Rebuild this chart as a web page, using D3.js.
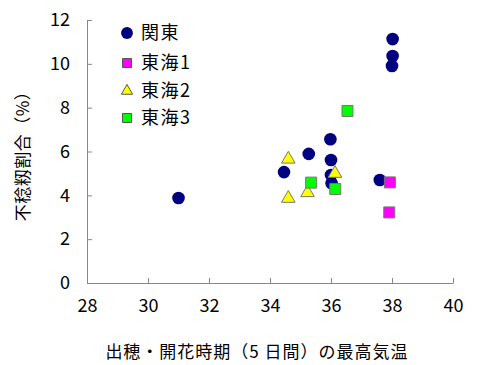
<!DOCTYPE html>
<html>
<head>
<meta charset="utf-8">
<script src="https://cdn.jsdelivr.net/npm/d3@7"></script>
<style>
  body { margin: 0; background: #fff; }
  text { font-family: "Noto Sans CJK JP", sans-serif; fill: #000; }
</style>
</head>
<body>
<svg id="chart" width="500" height="365"></svg>
<script>
// data
const kantoX = [31.0, 34.46, 35.27, 35.98, 36.0, 36.0, 36.02, 37.6, 38.02, 38.02, 38.0];
const kantoY = [3.88, 5.06, 5.89, 6.56, 5.61, 4.93, 4.55, 4.70, 11.13, 10.36, 9.90];
const tokai1X = [37.93, 37.91];
const tokai1Y = [4.59, 3.22];
const tokai2X = [34.6, 34.6, 35.23, 36.13];
const tokai2Y = [5.65, 3.86, 4.12, 5.0];
const tokai3X = [36.54, 35.35, 36.14];
const tokai3Y = [7.85, 4.58, 4.29];
const xTicks = [28, 30, 32, 34, 36, 38, 40];
const yTicks = [0, 2, 4, 6, 8, 10, 12];

const series = [
  {name: '関東', shape: 'circle', fill: '#000080', xs: kantoX, ys: kantoY},
  {name: '東海1', shape: 'square', fill: '#ff00ff', xs: tokai1X, ys: tokai1Y},
  {name: '東海2', shape: 'triangle', fill: '#ffff00', xs: tokai2X, ys: tokai2Y},
  {name: '東海3', shape: 'square', fill: '#00ff00', xs: tokai3X, ys: tokai3Y}
];

const margin = {top: 20, left: 87};
const width = 366, height = 263;
const axisColor = '#888';

const svg = d3.select('#chart');
const g = svg.append('g').attr('transform', 'translate(' + margin.left + ',' + margin.top + ')');

const x = d3.scaleLinear().domain([28, 40]).range([0, width]);
const y = d3.scaleLinear().domain([0, 12]).range([height, 0]);

// axes, ticks pointing inward
const xAxis = g.append('g')
  .attr('transform', 'translate(0,' + height + ')')
  .call(d3.axisBottom(x).tickValues(xTicks).tickSize(-5).tickPadding(16).tickSizeOuter(0));
const yAxis = g.append('g')
  .call(d3.axisLeft(y).tickValues(yTicks).tickSize(-5).tickPadding(17).tickSizeOuter(0));
[xAxis, yAxis].forEach(a => {
  a.select('.domain').attr('stroke', axisColor);
  a.selectAll('.tick line').attr('stroke', axisColor);
  a.selectAll('.tick text').style('font-size', '18px').attr('fill', '#000');
});
xAxis.selectAll('.tick text').attr('dy', '0.71em');

const sym = {
  circle: d3.symbol().type(d3.symbolCircle).size(125),
  square: d3.symbol().type(d3.symbolSquare).size(121),
  triangle: d3.symbol().type(d3.symbolTriangle).size(80)
};
const legSym = {
  circle: d3.symbol().type(d3.symbolCircle).size(110),
  square: d3.symbol().type(d3.symbolSquare).size(81),
  triangle: d3.symbol().type(d3.symbolTriangle).size(55)
};

// points
series.forEach(s => {
  g.append('g').selectAll('path')
    .data(s.xs.map((v, i) => [v, s.ys[i]]))
    .enter()
    .append('path')
    .attr('d', sym[s.shape])
    .attr('transform', d => 'translate(' + x(d[0]) + ',' + y(d[1]) + ')')
    .attr('fill', s.fill)
    .attr('stroke', s.shape === 'circle' ? 'none' : '#777')
    .attr('stroke-width', 1);
});

// legend
const legY = [33, 63, 91, 118];
const legend = svg.append('g');
series.forEach((s, i) => {
  legend.append('path')
    .attr('d', legSym[s.shape])
    .attr('transform', 'translate(127,' + legY[i] + ')')
    .attr('fill', s.fill)
    .attr('stroke', s.shape === 'circle' ? 'none' : '#555');
  legend.append('text')
    .attr('x', 141)
    .attr('y', legY[i])
    .attr('dy', '0.36em')
    .style('font-size', '18px')
    .style('letter-spacing', '1.5px')
    .text(s.name);
});

// axis titles
svg.append('text')
  .attr('x', 257).attr('y', 352)
  .attr('text-anchor', 'middle')
  .attr('dy', '0.35em')
  .style('font-size', '17px')
  .style('letter-spacing', '1px')
  .text('出穂・開花時期（5 日間）の最高気温');
svg.append('text')
  .attr('transform', 'translate(23,152) rotate(-90)')
  .attr('text-anchor', 'middle')
  .attr('dy', '0.35em')
  .style('font-size', '17px')
  .style('letter-spacing', '0.5px')
  .text('不稔籾割合（%）');
</script>
</body>
</html>
